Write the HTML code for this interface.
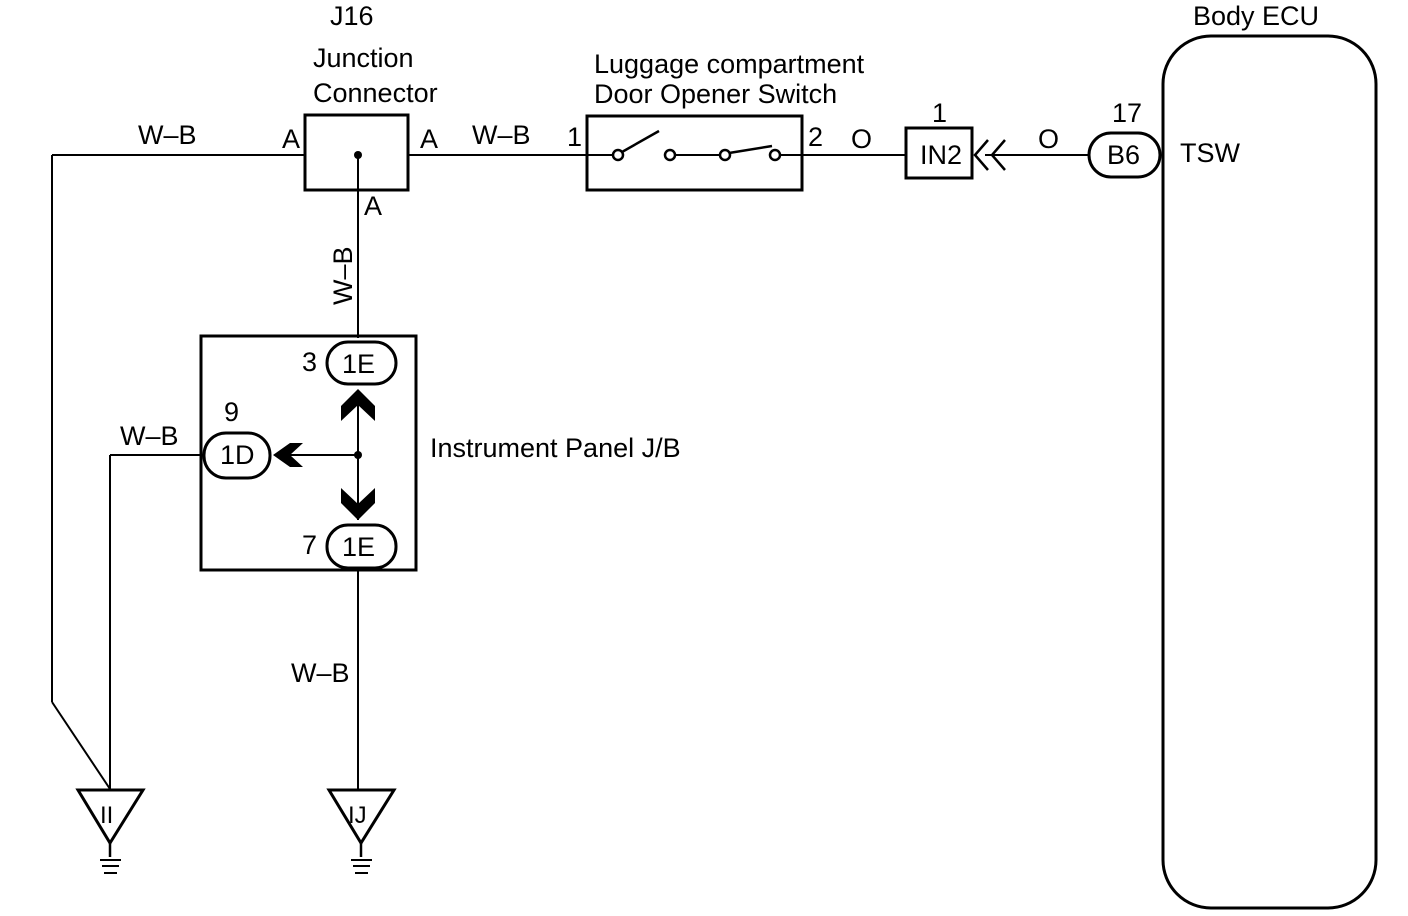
<!DOCTYPE html>
<html><head><style>html,body{margin:0;padding:0;background:#fff}svg{display:block}text{font-family:"Liberation Sans",sans-serif;font-size:27px;fill:#000}</style></head><body>
<svg width="1408" height="916" viewBox="0 0 1408 916" xmlns="http://www.w3.org/2000/svg">
<g stroke="#000" stroke-width="2" fill="none">
<line x1="52" y1="155" x2="305" y2="155"/>
<line x1="408" y1="155" x2="587" y2="155"/>
<line x1="802" y1="155" x2="906" y2="155"/>
<line x1="985" y1="155" x2="1088" y2="155"/>
<line x1="52" y1="155" x2="52" y2="702"/>
<line x1="52" y1="702" x2="110" y2="789"/>
<line x1="110" y1="455" x2="110" y2="789"/>
<line x1="110" y1="455" x2="204" y2="455"/>
<rect x="305" y="115" width="103" height="75" stroke-width="3"/>
<line x1="358" y1="155" x2="358" y2="338"/>
<rect x="587" y="116" width="215" height="74" stroke-width="3"/>
<line x1="587" y1="155" x2="613" y2="155"/>
<line x1="675" y1="155" x2="720" y2="155"/>
<line x1="780" y1="155" x2="802" y2="155"/>
<circle cx="618" cy="155" r="5" stroke-width="2.5" fill="#fff"/>
<circle cx="670" cy="155" r="5" stroke-width="2.5" fill="#fff"/>
<circle cx="725" cy="155" r="5" stroke-width="2.5" fill="#fff"/>
<circle cx="775" cy="155" r="5" stroke-width="2.5" fill="#fff"/>
<line x1="622" y1="152" x2="659" y2="131" stroke-width="2.5"/>
<line x1="729" y1="153" x2="772" y2="146" stroke-width="2.5"/>
<rect x="906" y="128" width="66" height="50" stroke-width="3"/>
<polyline points="988,140 975,155 988,170" stroke-width="2.5"/>
<polyline points="1005,140 992,155 1005,170" stroke-width="2.5"/>
<rect x="1089" y="133" width="71" height="44" rx="22" stroke-width="3"/>
<rect x="1163" y="36" width="213" height="872" rx="48" stroke-width="3"/>
<rect x="201" y="336" width="215" height="234" stroke-width="3"/>
<rect x="327" y="342" width="69" height="42" rx="21" stroke-width="3" fill="#fff"/>
<rect x="204" y="433" width="66" height="45" rx="22" stroke-width="3" fill="#fff"/>
<rect x="327" y="525" width="69" height="43" rx="21" stroke-width="3" fill="#fff"/>
<line x1="358" y1="390" x2="358" y2="520"/>
<line x1="285" y1="455" x2="358" y2="455"/>
<line x1="358" y1="568" x2="358" y2="789"/>
<polygon points="78,790 143,790 110,843" stroke-width="3"/>
<line x1="110" y1="843" x2="110" y2="857" stroke-width="2.5"/>
<line x1="100" y1="860" x2="121" y2="860"/>
<line x1="102" y1="866" x2="119" y2="866"/>
<line x1="104" y1="873" x2="117" y2="873"/>
<polygon points="329,790 394,790 361,843" stroke-width="3"/>
<line x1="361" y1="843" x2="361" y2="857" stroke-width="2.5"/>
<line x1="351" y1="860" x2="372" y2="860"/>
<line x1="353" y1="866" x2="370" y2="866"/>
<line x1="355" y1="873" x2="368" y2="873"/>
</g>
<g fill="#000">
<circle cx="358" cy="155" r="4"/>
<circle cx="358" cy="455" r="4"/>
<polygon points="358,389 375,406 375,421 358,405 341,421 341,406"/>
<polygon points="358,520 375,503 375,488 358,504 341,488 341,503"/>
<polygon points="273,455 290,443 303,443 290,455 303,467 290,467"/>
</g>
<text x="330" y="25">J16</text>
<text x="313" y="67">Junction</text>
<text x="313" y="102">Connector</text>
<text x="138" y="144">W–B</text>
<text x="282" y="148">A</text>
<text x="420" y="148">A</text>
<text x="364" y="215">A</text>
<text x="472" y="144">W–B</text>
<text x="567" y="146">1</text>
<text x="594" y="73">Luggage compartment</text>
<text x="594" y="103">Door Opener Switch</text>
<text x="808" y="146">2</text>
<text x="851" y="148">O</text>
<text x="932" y="122">1</text>
<text x="920" y="164">IN2</text>
<text x="1038" y="148">O</text>
<text x="1112" y="122">17</text>
<text x="1107" y="164">B6</text>
<text x="1193" y="25">Body ECU</text>
<text x="1180" y="162">TSW</text>
<text transform="translate(352,305) rotate(-90)">W–B</text>
<text x="302" y="371">3</text>
<text x="342" y="373">1E</text>
<text x="224" y="421">9</text>
<text x="120" y="445">W–B</text>
<text x="220" y="464">1D</text>
<text x="430" y="457">Instrument Panel J/B</text>
<text x="302" y="554">7</text>
<text x="342" y="556">1E</text>
<text x="291" y="682">W–B</text>
<text x="100" y="823" style="font-size:24px">II</text>
<text x="348" y="823" style="font-size:24px">IJ</text>
</svg>
</body></html>
